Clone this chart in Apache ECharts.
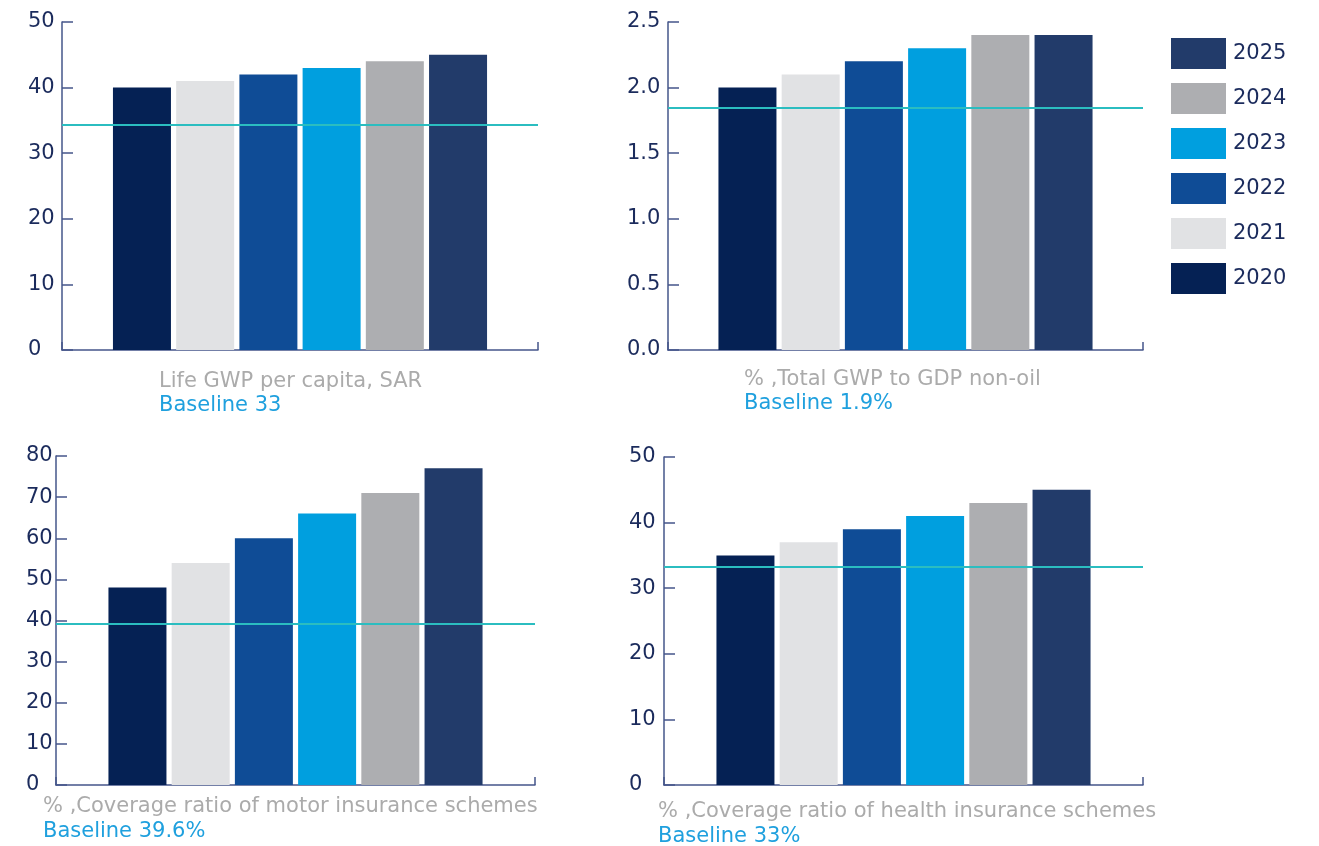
<!DOCTYPE html>
<html>
<head>
<meta charset="utf-8">
<script src="https://cdn.jsdelivr.net/npm/echarts@6/dist/echarts.min.js"></script>
<style>
    html, body { margin: 0; padding: 0; background: #fff; }
    #main { width: 1319px; height: 846px; }
</style>
</head>
<body>
<div id="main"></div>
<script>
const years = ["2020", "2021", "2022", "2023", "2024", "2025"];
const yearColors = ["#052154", "#E1E2E4", "#0F4C96", "#009FDF", "#ADAEB1", "#223B6A"];

const lifeGwp = [40, 41, 42, 43, 44, 45];
const gwpToGdp = [2.0, 2.1, 2.2, 2.3, 2.4, 2.4];
const motorCoverage = [48, 54, 60, 66, 71, 77];
const healthCoverage = [35, 37, 39, 41, 43, 45];

const baselineValues = [34.3, 1.85, 39.1, 33.2];
const chartTitles = [
    "Life GWP per capita, SAR",
    "% ,Total GWP to GDP non-oil",
    "% ,Coverage ratio of motor insurance schemes",
    "% ,Coverage ratio of health insurance schemes"
];
const baselineLabels = ["Baseline 33", "Baseline 1.9%", "Baseline 39.6%", "Baseline 33%"];
const axisMax = [50, 2.5, 80, 50];
const axisInterval = [10, 0.5, 10, 10];

const FONT = "DejaVu Sans";
const AXIS_COLOR = "#45568A";
const LABEL_COLOR = "#1B2B5C";

const grids = [
    { left: 62, top: 22, width: 476, height: 328 },
    { left: 668, top: 22, width: 475, height: 328 },
    { left: 56, top: 456, width: 479, height: 329 },
    { left: 664, top: 457, width: 479, height: 328 }
];
const labelMargins = [34, 41, 30, 35];
const titlePos = [
    { left: 159, top: 371, gap: 3 },
    { left: 744, top: 369, gap: 3 },
    { left: 43, top: 796, gap: 4 },
    { left: 658, top: 801, gap: 4 }
];

const allData = [lifeGwp, gwpToGdp, motorCoverage, healthCoverage];

const buildOption = () => {
    const xAxis = [];
    const yAxis = [];
    const series = [];
    const title = [];

    grids.forEach((g, i) => {
        xAxis.push({
            gridIndex: i,
            type: "category",
            data: ["all"],
            axisLine: { lineStyle: { color: AXIS_COLOR, width: 1.5 } },
            axisTick: { show: true, inside: true, length: 8, lineStyle: { color: AXIS_COLOR, width: 1.5 } },
            axisLabel: { show: false }
        });
        yAxis.push({
            gridIndex: i,
            type: "value",
            min: 0,
            max: axisMax[i],
            interval: axisInterval[i],
            splitLine: { show: false },
            axisLine: { show: true, lineStyle: { color: AXIS_COLOR, width: 1.5 } },
            axisTick: { show: true, inside: true, length: 11, lineStyle: { color: AXIS_COLOR, width: 1.5 } },
            axisLabel: {
                color: LABEL_COLOR,
                fontFamily: FONT,
                fontSize: 21,
                align: "left",
                margin: labelMargins[i],
                formatter: (v) => (i === 1 ? v.toFixed(1) : String(v))
            }
        });

        years.forEach((y, k) => {
            const s = {
                name: y,
                type: "bar",
                xAxisIndex: i,
                yAxisIndex: i,
                data: [allData[i][k]],
                barWidth: 58,
                barGap: "9%",
                itemStyle: { color: yearColors[k] }
            };
            if (k === years.length - 1) {
                s.markLine = {
                    silent: true,
                    symbol: "none",
                    label: { show: false },
                    lineStyle: { color: "#2BBDC0", width: 2, type: "solid" },
                    data: [{ yAxis: baselineValues[i] }]
                };
            }
            series.push(s);
        });

        title.push({
            left: titlePos[i].left,
            top: titlePos[i].top,
            text: chartTitles[i],
            subtext: baselineLabels[i],
            itemGap: titlePos[i].gap,
            padding: 0,
            textStyle: { color: "#ABABAB", fontFamily: FONT, fontSize: 21, fontWeight: "normal" },
            subtextStyle: { color: "#1FA0DE", fontFamily: FONT, fontSize: 21 }
        });
    });

    return {
        animation: false,
        backgroundColor: "#fff",
        title: title,
        legend: {
            orient: "vertical",
            left: 1171,
            top: 38,
            padding: 0,
            itemWidth: 55,
            itemHeight: 31,
            itemGap: 14,
            icon: "rect",
            data: years.slice().reverse(),
            textStyle: { color: LABEL_COLOR, fontFamily: FONT, fontSize: 21, padding: [0, 0, 0, 2] }
        },
        grid: grids,
        xAxis: xAxis,
        yAxis: yAxis,
        series: series
    };
};

const chart = echarts.init(document.getElementById("main"));
chart.setOption(buildOption());
</script>
</body>
</html>
